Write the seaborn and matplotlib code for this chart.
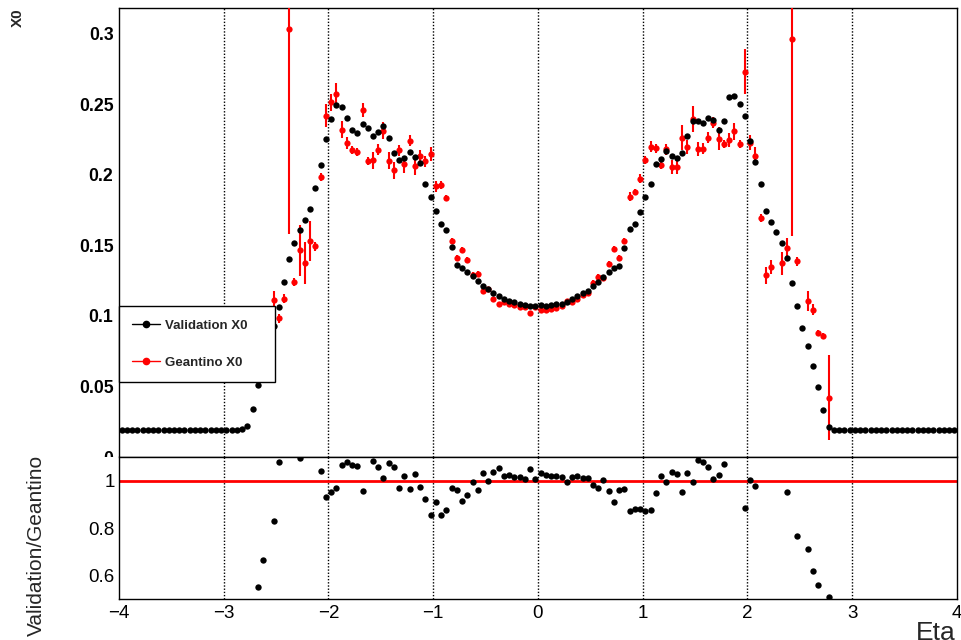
import numpy as np
import matplotlib
matplotlib.use("Agg")
import matplotlib.pyplot as plt
from matplotlib.lines import Line2D
from matplotlib.patches import Rectangle
from matplotlib.ticker import MultipleLocator
import seaborn as sns

# --- data: 160 eta bins of width 0.05 between -4 and 4 ---
eta = np.linspace(-3.975, 3.975, 160)

# Validation X0 (black markers)
val_left = [0.0195] * 23      # -3.975 .. -2.875
val_mid = [                   # -2.825 .. 2.775
    0.0198, 0.0223, 0.0340, 0.0510, 0.0660, 0.0800, 0.0930, 0.1062, 0.1243, 0.1404,
    0.1520, 0.1608, 0.1680, 0.1760, 0.1908, 0.2069, 0.2255, 0.2399, 0.2494, 0.2480,
    0.2401, 0.2318, 0.2298, 0.2360, 0.2333, 0.2277, 0.2304, 0.2346, 0.2263, 0.2154,
    0.2106, 0.2123, 0.2165, 0.2125, 0.2083, 0.1938, 0.1842, 0.1747, 0.1652, 0.1612,
    0.1487, 0.1360, 0.1343, 0.1314, 0.1284, 0.1248, 0.1215, 0.1189, 0.1163, 0.1142,
    0.1123, 0.1109, 0.1097, 0.1085, 0.1076, 0.1073, 0.1071, 0.1076, 0.1071, 0.1076,
    0.1083, 0.1087, 0.1101, 0.1118, 0.1142, 0.1161, 0.1180, 0.1211, 0.1243, 0.1274,
    0.1310, 0.1343, 0.1357, 0.1485, 0.1615, 0.1652, 0.1738, 0.1842, 0.1934, 0.2076,
    0.2116, 0.2173, 0.2135, 0.2121, 0.2156, 0.2277, 0.2385, 0.2380, 0.2366, 0.2402,
    0.2390, 0.2319, 0.2380, 0.2553, 0.2558, 0.2501, 0.2421, 0.2239, 0.2090, 0.1936,
    0.1742, 0.1664, 0.1594, 0.1516, 0.1411, 0.1232, 0.1069, 0.0917, 0.0787, 0.0648,
    0.0496, 0.0331, 0.0215,
]
val_right = [0.0190] * 24     # 2.825 .. 3.975
val = np.array(val_left + val_mid + val_right)

# Geantino X0 (red markers), bins -2.775 .. 2.775, nan = empty bin
gea = np.array([
    np.nan, 0.0800, 0.0920, 0.0990, 0.0720, 0.1116, 0.0983, 0.1123, 0.3033, 0.1241,
    0.1466, 0.1378, 0.1532, 0.1494, 0.1986, 0.2421, 0.2515, 0.2572, 0.2321, 0.2227,
    0.2176, 0.2164, 0.2459, 0.2098, 0.2104, 0.2180, 0.2314, 0.2102, 0.2034, 0.2175,
    0.2077, 0.2243, 0.2063, 0.2135, 0.2098, 0.2149, 0.1919, 0.1929, 0.1838, 0.1534,
    0.1411, 0.1468, 0.1398, 0.1290, 0.1298, 0.1175, 0.1189, 0.1120, 0.1085, 0.1098,
    0.1084, 0.1077, 0.1066, 0.1066, 0.1020, 0.1063, 0.1040, 0.1043, 0.1053, 0.1060,
    0.1068, 0.1104, 0.1100, 0.1117, 0.1146, 0.1165, 0.1232, 0.1280, 0.1270, 0.1369,
    0.1477, 0.1411, 0.1534, 0.1846, 0.1877, 0.1974, 0.2106, 0.2201, 0.2189, 0.2069,
    0.2182, 0.2059, 0.2059, 0.2265, 0.2201, 0.2397, 0.2187, 0.2187, 0.2265, 0.2371,
    0.2258, 0.2220, 0.2246, 0.2310, 0.2218, 0.2733, 0.2230, 0.2137, 0.1693, 0.1290,
    0.1350, np.nan, 0.1374, 0.1480, 0.2965, 0.1388, np.nan, 0.1106, 0.1045, 0.0880,
    0.0860, 0.0420,
])
gea_err = np.array(
    [0.0, 0.008, 0.008, 0.008, 0.008, 0.006, 0.003, 0.003, 0.145, 0.003,
     0.018, 0.015, 0.014, 0.003, 0.003, 0.008, 0.006, 0.008, 0.006, 0.004,
     0.003, 0.003, 0.005, 0.003, 0.006, 0.004, 0.006, 0.006, 0.006, 0.004,
     0.006, 0.004, 0.006, 0.004, 0.004, 0.005, 0.004, 0.003, 0.002]
    + [0.002] * 7 + [0.001] * 20 + [0.002] * 7
    + [0.003, 0.002, 0.003, 0.003, 0.004, 0.003, 0.003, 0.004, 0.005, 0.005,
       0.009, 0.005, 0.009, 0.005, 0.004, 0.004, 0.004, 0.008, 0.003, 0.005,
       0.006, 0.003, 0.016, 0.005, 0.006, 0.003, 0.006, 0.005, 0.0, 0.008,
       0.007, 0.140, 0.003, 0.0, 0.007, 0.004, 0.002, 0.002, 0.030]
)
eta_g = eta[24:136]

# ratio Validation / Geantino, only points inside the pad range are drawn
ratio = val[24:136] / gea
ratio[(ratio < 0.503) | (ratio > 1.101)] = np.nan

# --- style ---
sns.set_theme(style="white")
plt.rcParams['font.family'] = ['Liberation Sans', 'DejaVu Sans']
plt.rcParams['axes.unicode_minus'] = True

fig = plt.figure(figsize=(9.62, 6.4), dpi=100)
ax1 = fig.add_axes([0.1237, 0.2859, 0.8711, 0.7016])
ax2 = fig.add_axes([0.1237, 0.0641, 0.8711, 0.2219])
ax2.set_zorder(2)
# lower pad covers the bottom of the upper one (cuts the "0" label)
fig.add_artist(Rectangle((0, 0), 1, 0.2859, transform=fig.transFigure,
                         facecolor='white', edgecolor='none', zorder=1))

grid_kw = dict(color='black', lw=1, ls=(0, (1, 1.3)), zorder=1)

# --- upper pad: X0 vs eta ---
for x in range(-3, 4):
    ax1.axvline(x, **grid_kw)
ax1.errorbar(eta_g, gea, yerr=gea_err, fmt='o', color='red', ms=4.5, mew=0,
             elinewidth=1.5, capsize=0, zorder=3)
sns.scatterplot(x=eta, y=val, color='black', s=21, linewidth=0, ax=ax1,
                zorder=4, legend=False)

ax1.set_xlim(-4, 4)
ax1.set_ylim(0, 0.3184)
ax1.xaxis.set_major_locator(MultipleLocator(1))
ax1.xaxis.set_minor_locator(MultipleLocator(0.2))
ax1.set_yticks([0, 0.05, 0.1, 0.15, 0.2, 0.25, 0.3])
ax1.set_yticklabels(['0', '0.05', '0.1', '0.15', '0.2', '0.25', '0.3'],
                    fontweight='bold', fontsize=12.7)
ax1.yaxis.set_minor_locator(MultipleLocator(0.01))
ax1.tick_params(axis='both', which='both', direction='in', top=False,
                right=False, labelbottom=False, colors='black')
ax1.tick_params(axis='y', which='major', length=20, width=1, pad=4)
ax1.tick_params(axis='y', which='minor', length=10, width=1)
ax1.tick_params(axis='x', which='major', length=9.5, width=1)
ax1.tick_params(axis='x', which='minor', length=5, width=1)
ax1.set_xlabel('')
ax1.set_ylabel('')

handles = [Line2D([], [], color='black', marker='o', ms=4.5, lw=1),
           Line2D([], [], color='red', marker='o', ms=4.5, lw=1)]
leg = ax1.legend(handles, ['Validation X0', 'Geantino X0'], loc='upper left',
                 bbox_to_anchor=(0, 0.336, 0.186, 0), mode='expand',
                 borderaxespad=0, fancybox=False, framealpha=1,
                 edgecolor='black', prop={'weight': 'bold', 'size': 9.5},
                 labelspacing=1.9, borderpad=1.0, handlelength=2.1,
                 handletextpad=0.4)
leg.get_frame().set_linewidth(1)
leg.set_zorder(10)

# --- lower pad: ratio ---
ax2.axhline(1, color='red', lw=2, zorder=2)
for x in range(-3, 4):
    ax2.axvline(x, **grid_kw)
sns.scatterplot(x=eta_g, y=ratio, color='black', s=21, linewidth=0, ax=ax2,
                zorder=4, legend=False)

ax2.set_xlim(-4, 4)
ax2.set_ylim(0.503, 1.101)
ax2.xaxis.set_major_locator(MultipleLocator(1))
ax2.xaxis.set_minor_locator(MultipleLocator(0.2))
ax2.set_yticks([0.6, 0.8, 1.0])
ax2.set_yticklabels(['0.6', '0.8', '1'], fontsize=13.5)
ax2.yaxis.set_minor_locator(MultipleLocator(0.05))
ax2.tick_params(axis='both', which='both', direction='in', top=False,
                right=False, colors='black')
ax2.tick_params(axis='x', which='major', length=6, width=1, labelsize=13.5, pad=4)
ax2.tick_params(axis='x', which='minor', length=3, width=1)
ax2.tick_params(axis='y', which='major', length=18, width=1, pad=3)
ax2.tick_params(axis='y', which='minor', length=9, width=1)
ax2.set_xlabel('')
ax2.set_ylabel('')

for ax in (ax1, ax2):
    for sp in ax.spines.values():
        sp.set_color('black')
        sp.set_linewidth(1)

# axis titles, cut by the canvas edges like the original
fig.text(18 / 962, 1 - 8 / 640, 'X0', rotation=90, ha='center', va='top',
         fontsize=11, fontweight='bold')
fig.text(36 / 962, 1 - 455 / 640, 'Validation/Geantino', rotation=90,
         ha='center', va='top', fontsize=15)
fig.text(956 / 962, 1 - 621 / 640, 'Eta', ha='right', va='top', fontsize=19)

fig.savefig('out.png', dpi=100)
